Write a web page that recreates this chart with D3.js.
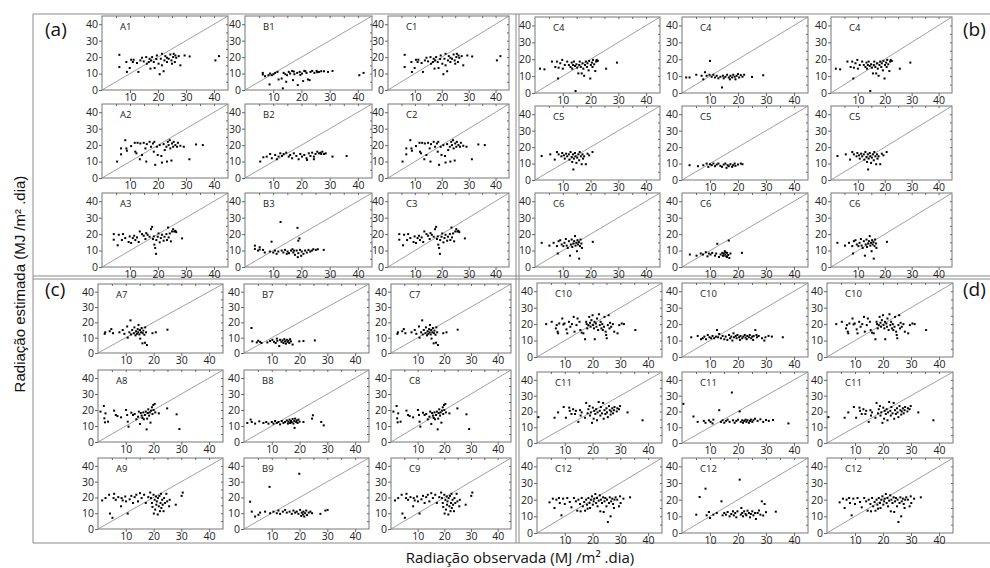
<!DOCTYPE html>
<html lang="pt">
<head>
<meta charset="UTF-8">
<script src="https://d3js.org/d3.v7.min.js"></script>
<style>
  body { margin: 0; background: #fff; }
  .tick text { font-family: "Open Sans", sans-serif; font-size: 10.5px; fill: #222; }
  .tick line { stroke: #666; }
</style>
<title>Radiação</title>
</head>
<body>
<div class="canvas"></div>
<script>
// dados: [observada, estimada]
const a1 = [[6.2,21.4],[6.2,14],[8.7,17],[8.9,11],[9.9,13.4],[10.4,18.4],[11,17],[11.3,18.4],[12.5,16.4],[13,11],[13.7,18],[14.3,19.6],[14.9,17.4],[15.8,20],[16,16],[16.7,17],[17,19],[17.3,13],[17.5,18],[17.9,20],[18.5,17],[18.8,13.4],[19.4,18.8],[19.6,21],[20.2,16],[20.6,9.6],[21,19],[21.4,22],[21.4,15],[22,11.4],[22.3,18],[22.6,20.6],[23.2,17],[23.2,19.6],[23.8,19],[24.4,21.6],[24.8,18],[25,16],[25.4,20],[25.6,22],[26,17],[26.2,21],[26.5,19.6],[27.4,20.6],[28,15],[29.5,21],[31.3,20.4],[40.5,18],[41.8,20.6]]
const b1 = [[6.3,10.4],[6.3,9.4],[7.1,8.4],[8.3,9],[8.9,10],[9.5,9],[8.7,3.4],[10.1,9.6],[10.7,10.4],[11.5,11],[11.9,6.4],[13,7],[13.4,1],[13.7,10.4],[14.3,9.6],[14.6,5],[14.9,9],[15.5,11],[16,10],[16.7,11.6],[17,6],[17.3,11.2],[17.5,9.6],[18.5,10.4],[18.7,3],[19.4,11],[19.6,9.2],[20.2,10],[20.6,5.4],[21,11.6],[21.4,11.4],[21.8,10.4],[22.3,6.4],[22.9,6],[23.2,11],[23.8,11.6],[24.6,10.4],[25.4,11.6],[25.6,10.8],[26.2,11],[27,11.4],[28,11.4],[29.4,11],[31,11.6],[40.5,9],[42,10.4]]
const a2 = [[5.4,10],[6.8,14.4],[6.8,18],[8.3,23],[8.7,18],[8.9,16.6],[10.4,19.4],[11.7,21.4],[11.9,16],[12.3,15],[12.7,21.4],[13.5,11.4],[13.7,21],[14.3,14],[14.9,21.4],[15.5,18],[15.8,10],[16,20.6],[17,22],[17.5,19],[18.2,21],[18.5,16],[18.7,22],[19,8],[19.6,19],[19.9,14],[20.6,20],[21.2,13.4],[21.4,9.4],[22,20.6],[22.4,17],[23,19],[23.2,10],[23.5,22],[23.8,20],[24.2,23],[24.4,18],[24.8,10.6],[25,21],[25.4,19],[25.6,22],[26.2,20],[26.8,19],[27.1,21.4],[28,19.6],[29.2,19],[31.2,11.4],[33.6,20.4],[36,20]]
const b2 = [[5.4,10],[6.5,12.6],[7.7,13],[8.9,14.6],[9.5,12],[10.7,14],[11.3,11.4],[11.9,13],[12.5,15],[13.1,13.4],[13.7,14.6],[14.6,15.4],[15.5,13],[16,14],[16.7,12],[17.3,15],[18.2,13.4],[19,11.4],[19.6,14.6],[20.2,13],[21,14],[21.8,12],[22,11],[22.6,15],[23.2,13.4],[23.8,15.4],[24.4,13],[24.4,11.4],[25,14.6],[25.6,16],[26.2,15],[26.8,15.4],[27,14.6],[27.4,16],[28,14.6],[28.6,15],[31,13],[36,13.4]]
const a3 = [[4.2,20],[4.2,16.6],[5.6,13.2],[6,19.6],[7.5,20],[7.1,16.4],[8.3,17.6],[9.5,15.2],[9.9,18.6],[10.4,14.6],[11,17.6],[11.5,19],[11.9,16.4],[12.5,18],[13.1,15.2],[13.5,21.6],[14.3,20],[14.9,19],[15.5,17],[15.8,20.6],[16.3,19.6],[17,18.4],[17.5,23],[17.9,24.4],[18.2,17],[18.5,18.6],[18.7,13.6],[19,11.6],[19.3,8],[19.4,16.4],[19.9,18.4],[20.2,20.4],[20.6,15],[21,17.6],[21.4,19.6],[22,16],[22.3,18.4],[23,20],[23.2,16.4],[23.6,24],[23.8,18],[24.2,20.4],[24.6,15.6],[25,21.6],[25.4,23],[25.8,21.6],[26.2,22],[26.5,21.2],[28.6,17.4]]
const b3 = [[3.5,13],[3.5,11],[4.6,10],[5.2,12],[5.2,10.6],[6.4,10.4],[7,8.8],[9.4,15.4],[8.8,9.4],[10,8.8],[10.6,10],[11.2,8],[11.8,9.4],[12.6,27.4],[13,10],[13.6,8.8],[14.2,10.4],[14.8,8],[15.1,9.4],[15.6,8.4],[16.3,10],[16.8,10.8],[17.1,8.8],[17.4,10],[17.7,7.4],[18.3,10],[18.6,23.8],[18.7,6],[18.9,16],[19.3,17.4],[18.9,8.4],[19.5,10.4],[19.9,6.8],[20.1,9.4],[20.7,8],[21.3,10],[21.9,8.8],[22.5,10.4],[23.1,9.4],[23.7,10],[24.2,10.8],[25.1,10.4],[25.8,10.8],[27.9,10.4]]
const c4 = [[1.8,14.4],[3.4,14],[6.1,18.6],[7.3,15.4],[7.9,18.6],[8.3,8.6],[8.5,15],[9.1,17.6],[9.8,19.6],[10,14.4],[10.7,16.6],[11.6,18.6],[12.2,16.6],[12.8,15.4],[13.2,18],[13.4,14.4],[13.7,16.6],[14,18.6],[14.4,16],[14.6,1.2],[14.9,17],[15.2,15],[15.6,11.6],[15.9,16.6],[16.1,18.6],[16.5,15.4],[16.8,11.6],[17.1,17.6],[17.4,14.4],[17.7,10.2],[18,16.6],[18.3,18.6],[18.7,15.4],[18.9,17.6],[19.3,13.4],[19.5,19],[19.9,8.6],[20.1,16.6],[20.5,18],[20.7,15.4],[20.9,19.6],[21.3,17],[21.7,13],[22,18.6],[22.2,19.6],[22.6,19],[25.6,14.4],[29.5,18]]
const c4m = [[1.5,9.2],[2.7,9.2],[5.1,10.8],[7,10.2],[7.6,8.1],[8.2,12.3],[8.8,10.2],[9.8,10.8],[10,19],[10.6,9.6],[11.2,10.8],[11.8,9.2],[12.4,10.2],[13,8.7],[13.7,9.6],[14.3,3.3],[14.6,10.2],[14.9,8.7],[15.5,9.6],[16.1,10.8],[16.7,9.2],[17.1,8.1],[17.3,10.2],[17.9,9.2],[18.3,10.8],[18.8,9.6],[19.1,8.1],[19.5,10.2],[20,11.2],[20.4,9.2],[21,10.6],[21.6,9.6],[22.2,10.8],[25,9.5],[29,10.5]]
const c5 = [[2.4,14.6],[5.5,15.6],[7.1,12.4],[7.9,17],[8.5,15.6],[9.5,14.4],[9.8,16.4],[10.4,15],[10.7,13],[11.2,16],[11.6,14.4],[12.2,15.6],[12.4,12.4],[12.8,17],[13.2,14],[13.4,11],[13.7,15.6],[13.8,6.4],[14,13],[14.4,16.4],[14.6,14.4],[14.9,10.4],[15.2,13.6],[15.6,15.6],[15.9,12],[16.1,17],[16.5,14.4],[16.8,9.6],[17.1,15.6],[17.3,13],[17.7,14.4],[18.3,9.6],[18.9,16],[19.5,15],[20.7,17]]
const c5m = [[2.7,9],[5.7,8.4],[7.6,9],[8.8,10],[9.4,8],[10,9.6],[10.6,9],[11.2,10],[11.8,8.4],[12.4,9.4],[13,10],[13.7,8.6],[14.3,8],[14.9,9.4],[15.5,10],[15.9,7.4],[16.3,9],[16.7,8.4],[17.3,9.6],[17.9,8],[18.3,9],[18.8,10],[19.1,8.6],[20,9.4],[21,10],[21.6,9.6]]
const c6 = [[2.4,14.7],[5.2,13],[6.7,14.7],[7.9,12.7],[8.2,8.2],[8.5,15.7],[9.1,16.3],[9.6,13.7],[10.2,12.7],[10.6,14.7],[11.1,17],[11.4,13],[11.8,11.6],[12.2,15.7],[12.6,6.9],[12.9,13.7],[13.2,16.7],[13.4,12.2],[13.8,14.3],[14.1,15.7],[14.4,18.8],[14.6,13],[14.9,14.7],[15.1,9.6],[15.3,16.3],[15.5,13.7],[15.8,15.1],[15.9,5.1],[16.2,12.7],[16.4,16.7],[16.7,14.3],[16.9,11.6],[20.8,15.3]]
const c6m = [[2.8,7.6],[5.2,6.9],[6.7,8.2],[7.5,7.6],[8.5,9],[9.1,6.5],[9.6,8.2],[10.2,7.6],[10.8,8.6],[11.8,6.9],[12.2,8.2],[12.6,14.1],[13.2,6.1],[13.8,7.6],[14.4,8.6],[14.6,6.9],[14.9,8.2],[14.9,6.9],[15.3,9.6],[15.5,7.6],[15.5,9],[15.8,6.5],[16.1,8.6],[16.1,6.1],[16.5,7.3],[16.7,16.1],[16.9,5.5],[17.3,8.2],[21.4,8.6]]
const a7 = [[2.4,12.5],[2.6,13.5],[4.2,14.2],[4.8,15.6],[5.4,12.9],[7.7,13.5],[8.9,15],[9.5,12.5],[10.5,17.3],[10.7,10],[11.3,13.5],[11.7,21.3],[11.9,12.1],[12.3,15],[12.9,12.9],[13.1,16.7],[13.5,11.5],[13.7,14.2],[14,12.5],[14.3,15.6],[14.5,13.5],[14.6,18.3],[14.9,12.1],[15.1,15],[15.2,9.4],[15.5,13.5],[15.7,16.3],[16,6.3],[16.1,12.9],[16.3,14.6],[16.7,11.9],[16.9,6.7],[17,16.7],[17.3,13.5],[17.6,5.2],[19.6,12.9],[20.8,13.5],[25,15.2]]
const b7 = [[2.7,16.3],[3,7.6],[4.6,6.9],[5.1,8],[5.8,7.3],[6.3,6.5],[8.4,6.9],[9.4,7.8],[10.2,8.6],[10.8,7.3],[11.4,6.5],[11.8,9.4],[12,8],[12.7,4.5],[13,8.6],[13.5,7.3],[13.9,8.2],[14.2,6.5],[14.5,9],[14.8,7.6],[15.1,6.1],[15.4,8.6],[15.7,7.3],[16,8],[16.3,6.5],[16.6,9],[16.9,7.6],[17.5,5.5],[19.9,7.6],[21.4,7.8],[25.5,8.2]]
const a8 = [[0.9,19],[2.1,22.5],[2.3,14.8],[2.7,17.9],[2.5,12.3],[3.6,12.7],[5.8,19.6],[6.4,16.9],[7,16.2],[8.3,15.4],[10.1,20],[10.5,16.9],[10.7,12.7],[11,9.6],[12,18.3],[12.6,16.9],[13.2,17.5],[13.8,14.2],[14.4,15.8],[14.7,19],[15.1,11.3],[15.4,18.1],[15.7,16.5],[16,15],[16.3,18.5],[16.5,14.2],[16.9,16.9],[17.2,19],[17.5,7.9],[17.7,14.6],[17.9,18.1],[18.1,20.4],[18.4,16.5],[18.6,18.5],[18.9,12.1],[19.1,19.6],[19.4,21.7],[19.6,17.5],[19.9,23.1],[20,20],[20.4,23.8],[20.6,18.5],[21.9,17.9],[24.9,21],[28.3,17.3],[29.3,8.1]]
const b8 = [[1.2,11.9],[2.4,14],[2.8,12.5],[4,11.5],[5.5,12.9],[7,11.9],[8,12.5],[8.8,11.5],[10,12.5],[10.6,11.5],[11.2,13.1],[11.8,11.9],[12.4,12.5],[13,11],[13.6,13.1],[14.2,11.9],[14.8,12.5],[15.4,13.5],[15.8,11.5],[16,12.7],[16.4,14],[16.6,11.9],[16.9,13.1],[17.2,12.3],[17.5,14.4],[17.8,11.5],[18.1,13.1],[18.2,8.8],[18.4,14.6],[18.8,12.5],[19,13.5],[19.3,11.9],[19.6,14],[20,12.7],[21.4,12.5],[24.5,14.6],[24.8,16.7],[27.8,12.5],[28.7,10.4]]
const a9 = [[1.5,18.1],[2.7,19.6],[4,21.7],[4.3,9.8],[5.2,7.1],[5.6,19.6],[5.8,22.3],[6.4,18.5],[7.3,20.2],[8.3,14.4],[8.5,19.6],[8.9,18.1],[9.8,20.6],[10.1,17.5],[10.7,9.8],[11.4,18.8],[12,21],[12.6,16.5],[13.2,20.2],[13.8,21.7],[14.4,17.5],[15.1,22.7],[15.7,19.6],[16.6,21.7],[17.2,16.5],[18.1,20.2],[18.8,23.1],[19.1,19.6],[19.4,16.5],[19.6,14],[20,21.7],[20.1,9.8],[20.4,18.5],[20.6,12.3],[20.9,20.6],[21,15.4],[21.2,17.5],[21.5,9.2],[21.6,19.6],[21.9,14.4],[22.1,21],[22.3,11.3],[22.5,16.5],[22.7,22.3],[22.8,13.3],[23.1,18.5],[23.3,15.4],[23.6,11.3],[23.8,19.6],[24.1,16.5],[24.6,22.3],[24.9,17.5],[25.6,14.4],[25.8,18.5],[28,15.4],[30.1,21],[30.5,23.1]]
const b9 = [[2.2,17.3],[2.8,11],[4,7.9],[5.2,9],[5.8,10.4],[7.6,11],[9.2,26.7],[9.4,10],[10.6,11],[11.8,10],[12.4,11.7],[13,9.6],[14,11],[14.8,12.1],[15.4,10.4],[16.4,11],[17.2,9.6],[17.8,11.7],[18.4,10.4],[19,11],[19.6,9.6],[19.9,35],[20.2,12.1],[20.6,8.3],[20.8,10.4],[21.2,9.2],[21.4,11],[21.7,7.9],[22,10],[22.4,11.7],[22.7,8.8],[23.3,10.4],[23.9,11],[24.5,10],[27.5,9.6],[29.3,11.7],[30.1,12.1]]
const c10 = [[3.3,20],[5.3,21.4],[6.8,17.4],[7.1,19.4],[7.4,15.4],[7.6,14.4],[8,20.4],[9.1,23.4],[9.5,19.8],[9.9,20.4],[10.6,16.8],[10.9,14.4],[11.5,21.4],[12,18.4],[12.6,20],[13.2,24.4],[13.5,15.4],[14.2,19.4],[14.6,23.4],[15.3,21.4],[15.6,16.4],[16.1,14.8],[16.7,14.4],[17.3,10.8],[17.7,21.4],[17.9,20],[18.1,17.4],[18.5,19.4],[18.8,24.4],[19.1,20.8],[19.3,18.4],[19.6,22.4],[20,25.4],[20.2,19.4],[20.5,17.4],[20.7,21.4],[20.8,10.8],[21.2,20.4],[21.4,18.4],[21.6,23.4],[22,16.4],[22.3,26],[22.6,19.4],[22.9,21.4],[23.2,17.4],[23.5,20],[23.7,16.4],[24.1,18.4],[24.3,24.4],[24.7,15.4],[24.9,13.4],[25.1,11.4],[25.5,19.4],[25.8,25.4],[26.1,17.4],[26.3,20.8],[26.7,18.4],[27.3,20],[27.8,15.4],[29,14.4],[29.6,19.4],[30.5,20.4],[31.3,20],[35.4,16.4]]
const c10m = [[3.3,12],[5.6,12.8],[6.8,10.8],[7.4,11.4],[8,12.4],[8.6,10.8],[9.2,13.4],[9.8,12],[10.4,11.4],[10.9,12.8],[11.5,11.4],[12.1,12.4],[12.5,16.4],[12.9,12],[13.3,14],[13.9,11.4],[14.5,12.8],[15.1,10.8],[15.6,12.4],[16.2,10.4],[16.8,13.4],[17.2,11.4],[17.6,12.4],[18,10],[18.4,14.4],[18.6,12],[19.2,12.8],[19.5,11.4],[19.8,13.4],[20.4,12],[20.7,10.4],[20.9,12.8],[21.5,11.4],[21.9,12.4],[22.4,13.4],[22.7,11.8],[23.1,10.8],[23.3,12.8],[23.9,12],[24.2,13.4],[24.7,11.4],[25.1,12.4],[25.4,10.4],[25.6,12.8],[26.2,16.4],[26.6,13.4],[26.8,12],[27.4,12.8],[28.6,11.4],[29.4,10],[29.8,12],[30.9,12.8],[32.1,12.4],[36,12]]
const c11 = [[0.5,16.4],[6.3,16],[7.6,19.4],[9.6,22.8],[10.4,16],[11.6,22.4],[11.8,20.4],[12.4,18.4],[13,21.4],[13.7,18.4],[14,20.4],[14.9,13.4],[15.5,20.8],[15.7,17.4],[16.1,19.4],[17.3,16],[17.7,25.4],[18.2,18.8],[18.5,21.4],[18.9,23.4],[19.1,17.4],[19.4,19.4],[19.8,12.8],[20.1,22.4],[20.4,15.4],[20.6,20.4],[21,18.4],[21.3,21.4],[21.6,14.4],[21.8,19.4],[22.2,26],[22.6,20.4],[22.8,17.4],[23,22.8],[23.4,18.8],[23.8,25.4],[24,15.4],[24.3,20.8],[24.6,18.4],[25,22],[25.2,19.4],[25.5,16.4],[25.9,23.4],[26.2,20.8],[26.5,18],[26.7,20],[27.1,22],[27.4,18.8],[27.7,20.8],[27.9,22.8],[28.7,20],[28.9,22],[29.5,21.4],[29.9,23.4],[32.6,19.4],[38,14.4]]
const c11m = [[0.5,24.8],[4.1,16.8],[5.6,13.4],[7.8,14],[8.4,12.8],[9.6,14.4],[10.2,13.4],[10.9,12.4],[11.2,14.8],[13.3,20.8],[13.9,13.4],[14.5,14.4],[15.1,12.8],[15.7,14],[16.3,14.8],[17,13.4],[17.8,32],[18.2,14.4],[18.8,12.8],[19.4,14],[20,14.8],[20.6,20],[21,13.4],[21.5,14.4],[21.8,12.8],[22.2,14],[22.7,14.8],[23,13.4],[23.4,14.4],[23.9,12.8],[24.3,14],[24.6,14.8],[25.1,13.4],[25.5,14.4],[26.1,15.4],[27,14],[28,15],[29,13.4],[30,14.6],[31,14],[32.5,14.6],[38,12.4]]
const c12 = [[4.5,18.4],[5.7,20.6],[6.3,15],[7,20],[7.9,21],[8.2,18],[8.8,10.6],[9.4,20.6],[10,17.4],[10.9,21],[11.8,18.6],[12.4,15.4],[13.3,21],[14,19],[14.5,13.4],[14.9,20],[15.5,17.4],[15.7,13],[16.1,21],[16.5,16],[17,18.6],[17.3,13.4],[17.7,20],[18,17],[18.2,14.6],[18.5,21],[18.9,18],[19.1,15],[19.4,20],[19.8,22],[20.1,17],[20.4,19],[20.6,20.6],[21,23.4],[21.3,18],[21.6,21],[21.8,16],[22.2,19.4],[22.6,22.6],[22.8,13],[23,20],[23.4,18],[23.8,21.4],[24,12.6],[24.3,19],[24.6,21],[25,16],[25.2,20],[25.5,6.6],[25.9,18],[26.2,21.4],[26.5,10],[26.7,19],[27.1,20.6],[27.4,17.4],[27.7,15],[27.9,20],[28.3,21.4],[28.9,20],[29.5,16],[29.9,22],[30.1,18],[31.1,20.6],[33.5,21.4]]
const c12m = [[5.1,11],[6.3,21.6],[8.4,26.6],[8.8,10.6],[9.6,12.6],[10,9],[11.2,11],[12.4,12],[14.1,19],[14.5,10.6],[15.1,12],[15.7,11],[16.3,12.6],[17,10],[17.6,11.4],[18.2,13],[18.5,10.6],[19,12],[19.4,9.4],[19.8,13],[20.6,32],[21,11],[21.2,15],[21.5,12],[21.8,10],[22.2,13],[22.7,11.4],[23,10.6],[23.4,13.4],[23.9,12],[24.3,9.4],[24.6,11.4],[25.1,13],[25.5,10.6],[26.1,12],[26.4,8.4],[27,12],[27.5,13.5],[28,11],[28.5,19],[29,10.5],[29.5,17.4],[30,12.5],[33.5,12.8]]

const xTicks = [10, 20, 30, 40]
const yTicks = [0, 10, 20, 30, 40]
const quadLabels = ['(a)', '(b)', '(c)', '(d)']
const titlesA = [['A1', 'B1', 'C1'], ['A2', 'B2', 'C2'], ['A3', 'B3', 'C3']]
const titlesB = [['C4', 'C4', 'C4'], ['C5', 'C5', 'C5'], ['C6', 'C6', 'C6']]
const titlesC = [['A7', 'B7', 'C7'], ['A8', 'B8', 'C8'], ['A9', 'B9', 'C9']]
const titlesD = [['C10', 'C10', 'C10'], ['C11', 'C11', 'C11'], ['C12', 'C12', 'C12']]

const W = 990, H = 568
const svg = d3.select('.canvas').append('svg')
    .attr('width', W).attr('height', H)

// posição dos painéis em cada quadrante
const quadrants = [
    { label: quadLabels[0], lx: 45, ly: 36, titles: titlesA, sets: [[a1, b1, a1], [a2, b2, a2], [a3, b3, a3]],
      cols: [[102, 228], [245, 372], [388, 509]], rows: [[16, 90], [104, 178], [193, 267]] },
    { label: quadLabels[1], lx: 963, ly: 36, titles: titlesB, sets: [[c4, c4m, c4], [c5, c5m, c5], [c6, c6m, c6]],
      cols: [[535, 660], [682, 808], [831, 952]], rows: [[17, 93], [106, 180], [193, 267]] },
    { label: quadLabels[2], lx: 45, ly: 296, titles: titlesC, sets: [[a7, b7, a7], [a8, b8, a8], [a9, b9, a9]],
      cols: [[98, 223], [244, 369], [391, 511]], rows: [[284, 353], [370, 442], [458, 529]] },
    { label: quadLabels[3], lx: 963, ly: 296, titles: titlesD, sets: [[c10, c10m, c10], [c11, c11m, c11], [c12, c12m, c12]],
      cols: [[537, 662], [682, 808], [827, 953]], rows: [[283, 357], [372, 443], [458, 533]] }
]

// molduras
const frame = svg.append('g').attr('stroke', '#8a8a8a').attr('fill', 'none')
frame.append('line').attr('x1', 33).attr('x2', W).attr('y1', 14).attr('y2', 14)
frame.append('line').attr('x1', 33).attr('x2', W).attr('y1', 543).attr('y2', 543)
frame.append('line').attr('x1', 33).attr('x2', 33).attr('y1', 14).attr('y2', 543)
frame.append('line').attr('x1', 33).attr('x2', W).attr('y1', 276).attr('y2', 276)
frame.append('line').attr('x1', 33).attr('x2', W).attr('y1', 279).attr('y2', 279)
frame.append('line').attr('x1', 516).attr('x2', 516).attr('y1', 14).attr('y2', 543)
frame.append('line').attr('x1', 519).attr('x2', 519).attr('y1', 14).attr('y2', 543)

quadrants.forEach(q => {
    svg.append('text')
        .attr('x', q.lx).attr('y', q.ly)
        .style('font-family', '"Open Sans", sans-serif')
        .style('font-size', '19px')
        .attr('fill', '#111')
        .text(q.label)

    q.rows.forEach((r, i) => {
        q.cols.forEach((c, j) => {
            const data = q.sets[i][j]
            const x = d3.scaleLinear().domain([0, 45]).range(c)
            const y = d3.scaleLinear().domain([0, 45]).range([r[1], r[0]])
            const g = svg.append('g')

            g.append('rect')
                .attr('x', c[0]).attr('y', r[0])
                .attr('width', c[1] - c[0]).attr('height', r[1] - r[0])
                .attr('fill', 'none').attr('stroke', '#777')

            g.append('g').attr('transform', `translate(${c[0]},0)`)
                .call(d3.axisLeft(y).tickValues(yTicks).tickSize(3).tickPadding(1))
            g.append('g').attr('transform', `translate(0,${r[1]})`)
                .call(d3.axisBottom(x).tickValues(xTicks).tickSize(3).tickPadding(1))
            // marcas menores no topo e à direita
            g.append('g').attr('transform', `translate(0,${r[0]})`)
                .call(d3.axisTop(x).tickValues(d3.range(5, 45, 5)).tickSize(-2).tickFormat(''))
            g.append('g').attr('transform', `translate(${c[1]},0)`)
                .call(d3.axisRight(y).tickValues(d3.range(5, 45, 5)).tickSize(-2).tickFormat(''))
            g.selectAll('.domain').remove()

            g.append('line')
                .attr('x1', x(0)).attr('y1', y(0))
                .attr('x2', x(45)).attr('y2', y(45))
                .attr('stroke', '#888').attr('stroke-width', 0.8)

            g.selectAll('rect.pt').data(data).enter()
                .append('rect').attr('class', 'pt')
                .attr('x', d => x(d[0]) - 1)
                .attr('y', d => y(d[1]) - 1)
                .attr('width', 2).attr('height', 2)
                .attr('fill', '#000')

            g.append('text')
                .attr('x', c[0] + 18).attr('y', r[0] + 14)
                .style('font-family', '"Open Sans", sans-serif')
                .style('font-size', '9.5px')
                .attr('fill', '#222')
                .text(q.titles[i][j])
        })
    })
})

svg.append('text')
    .attr('transform', 'translate(25,284) rotate(-90)')
    .attr('text-anchor', 'middle')
    .style('font-family', '"Liberation Sans", sans-serif')
    .style('font-size', '15px')
    .attr('fill', '#111')
    .text('Radiação estimada (MJ /m² .dia)')

svg.append('text')
    .attr('x', 520).attr('y', 563)
    .attr('text-anchor', 'middle')
    .style('font-family', '"Open Sans", sans-serif')
    .style('font-size', '15px')
    .attr('fill', '#111')
    .text('Radiação observada (MJ /m² .dia)')
</script>
</body>
</html>
